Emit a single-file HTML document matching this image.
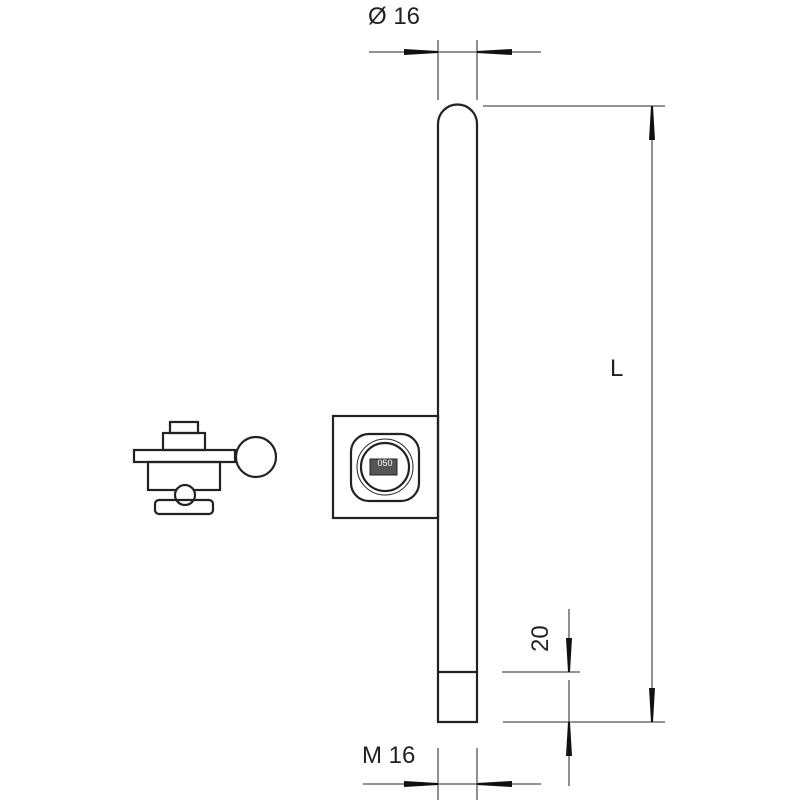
<!DOCTYPE html>
<html><head><style>body{margin:0;background:#fff}svg{display:block}</style></head><body>
<svg width="800" height="800" viewBox="0 0 800 800" xmlns="http://www.w3.org/2000/svg" font-family="Liberation Sans, sans-serif">
<g stroke="#222" fill="none" stroke-width="2.2">
<path d="M438,722 V124 A19.5,19.5 0 0 1 477,124 V722 Z"/>
<line x1="438" y1="672" x2="477" y2="672"/>
<rect x="333" y="416" width="105" height="102"/>
<rect x="351" y="434" width="68" height="67" rx="18"/>
<circle cx="385" cy="467" r="24"/>
<circle cx="385" cy="467" r="28" stroke-width="1"/>
<rect x="370" y="459" width="27" height="16" fill="#555" stroke-width="1"/>
<rect x="170" y="422" width="28" height="11"/>
<rect x="163" y="433" width="42" height="17"/>
<rect x="134" y="450" width="101" height="12"/>
<circle cx="256" cy="457" r="20"/>
<rect x="148" y="462" width="72" height="28"/>
<circle cx="185" cy="495" r="10" fill="#fff"/>
<rect x="155" y="500" width="58" height="14" rx="4"/>
</g>
<text x="385" y="466" font-size="9" text-anchor="middle" fill="#fff">050</text>
<g stroke="#555" stroke-width="1.3">
<line x1="369" y1="52" x2="541" y2="52"/>
<line x1="438" y1="40" x2="438" y2="100"/>
<line x1="477" y1="40" x2="477" y2="100"/>
<line x1="483" y1="106" x2="665" y2="106"/>
<line x1="503" y1="722" x2="665" y2="722"/>
<line x1="652" y1="106" x2="652" y2="722"/>
<line x1="569" y1="609" x2="569" y2="664"/>
<line x1="569" y1="680" x2="569" y2="786"/>
<line x1="502" y1="672" x2="580" y2="672"/>
<line x1="363" y1="784" x2="541" y2="784"/>
<line x1="438" y1="748" x2="438" y2="800"/>
<line x1="477" y1="748" x2="477" y2="800"/>
</g>
<g fill="#111">
<polygon points="404,49 404,55 438,53 438,51"/>
<polygon points="512,49 512,55 477,53 477,51"/>
<polygon points="404,781 404,787 438,785 438,783"/>
<polygon points="512,781 512,787 477,785 477,783"/>
<polygon points="649,140 655,140 653,106 651,106"/>
<polygon points="649,688 655,688 653,722 651,722"/>
<polygon points="566,638 572,638 570,672 568,672"/>
<polygon points="566,756 572,756 570,722 568,722"/>
</g>
<g fill="#222" font-size="24">
<text x="368" y="24">Ø 16</text>
<text x="362" y="763">M 16</text>
<text x="610" y="376">L</text>
<text transform="translate(548,652) rotate(-90)">20</text>
</g>
</svg>
</body></html>
